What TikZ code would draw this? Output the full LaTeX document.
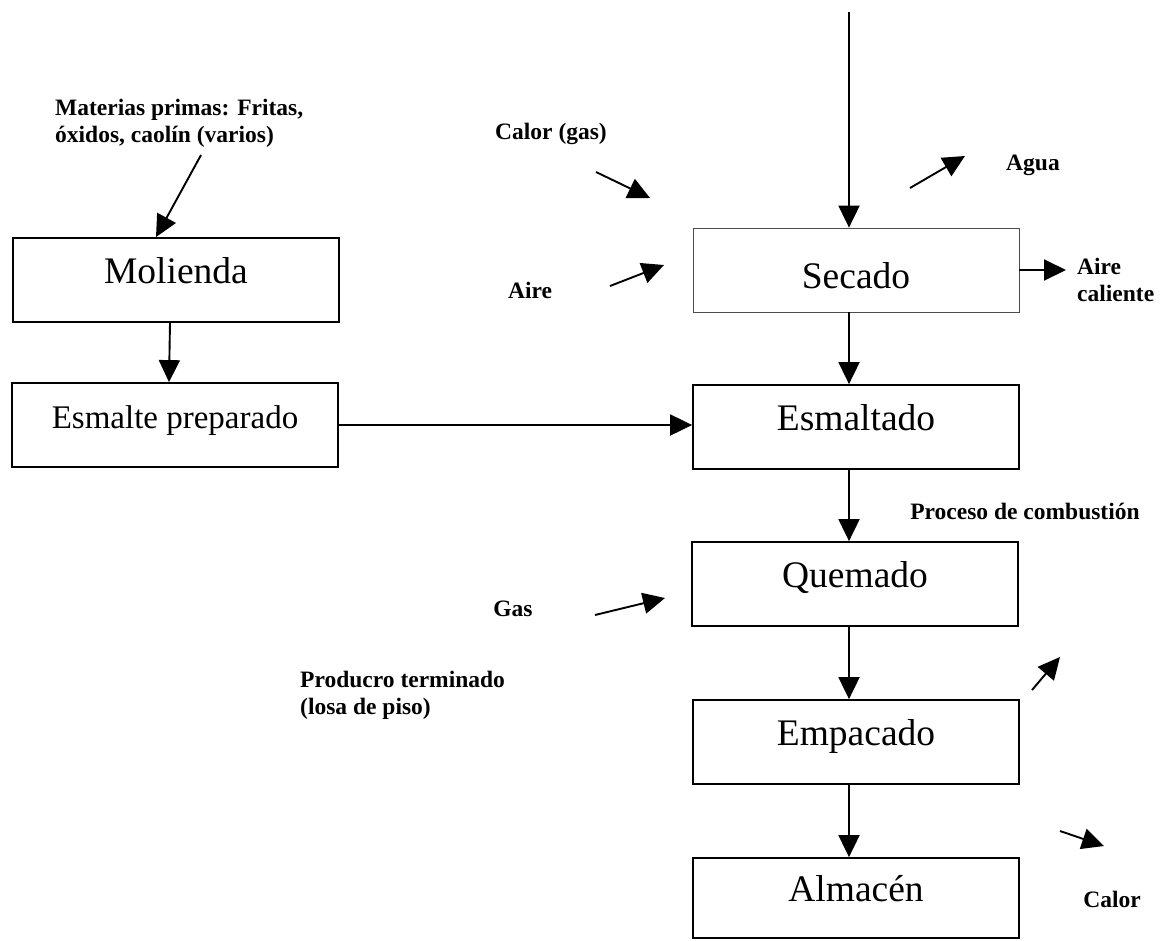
\documentclass[tikz,border=0pt]{standalone}
\usepackage{fontspec}
\setmainfont{Liberation Serif}
\usetikzlibrary{arrows.meta,positioning}

\tikzset{
  caja/.style={draw, line width=1.8pt, minimum width=326pt, minimum height=84pt, inner sep=0pt,
    font=\fontsize{37.5}{42}\selectfont, text height=25pt, text depth=19pt},
  flecha/.style={line width=1.9pt, -{Triangle[length=22pt,width=21pt]}},
  etiqueta/.style={font=\fontsize{23.5}{27}\selectfont\bfseries, inner sep=0pt, align=left}
}

\begin{document}
\begin{tikzpicture}[x=1pt,y=-1pt]
            \useasboundingbox (0,0) rectangle (1161,940);

            %cajas de la izquierda
            \node[caja] (molienda) at (176,280) {Molienda};
            \node[caja, font=\fontsize{33}{37}\selectfont] (esmalte) at (175,425) {Esmalte preparado};

            %cajas de la derecha
            \node[caja, line width=0.8pt, draw=black!70, text height=37pt, text depth=0pt] (secado) at (856,270) {Secado};
            \node[caja] (esmaltado) at (856,427) {Esmaltado};
            \node[caja] (quemado) at (855,584) {Quemado};
            \node[caja] (empacado) at (856,742) {Empacado};
            \node[caja, minimum height=80pt] (almacen) at (856,898) {Almacén};

            %textos
            \node[etiqueta, anchor=north west] (materias) at (55,99) {Materias primas: Fritas,\\óxidos, caolín (varios)};
            \node[etiqueta] (calor) at (551,134) {Calor (gas)};
            \node[etiqueta] (agua) at (1033,165) {Agua};
            \node[etiqueta] (aire) at (530,290) {Aire};
            \node[etiqueta, anchor=west] (airecal) at (1077,280) {Aire\\caliente};
            \node[etiqueta] (proceso) at (1025,511) {Proceso de combustión};
            \node[etiqueta] (gas) at (513,609) {Gas};
            \node[etiqueta, anchor=north west] (producto) at (300,671) {Producro terminado\\(losa de piso)};
            \node[etiqueta] (calorb) at (1112,899) {Calor};

            %puntos sueltos
            \coordinate (entrada) at (849,12);
            \coordinate (mat0) at (201,155);
            \coordinate (calor0) at (596,172);
            \coordinate (calor1) at (650,198);
            \coordinate (agua0) at (910,188);
            \coordinate (agua1) at (965,156);
            \coordinate (aire0) at (610,286);
            \coordinate (aire1) at (664,265);
            \coordinate (gas0) at (595,615);
            \coordinate (gas1) at (665,598);
            \coordinate (humo0) at (1032,690);
            \coordinate (humo1) at (1060,657);
            \coordinate (calorb0) at (1060,831);
            \coordinate (calorb1) at (1104,846);

            %flechas
            \draw[flecha] (mat0) -- ([xshift=-20pt]molienda.north);
            \draw[flecha] ([xshift=-6pt]molienda.south) -- ([xshift=-6pt]esmalte.north);
            \draw[flecha] (esmalte.east) -- (esmalte.east -| esmaltado.west);
            \draw[flecha] (entrada) -- (entrada |- secado.north);
            \draw[flecha] (entrada |- secado.south) -- (entrada |- esmaltado.north);
            \draw[flecha] (entrada |- esmaltado.south) -- (entrada |- quemado.north);
            \draw[flecha] (entrada |- quemado.south) -- (entrada |- empacado.north);
            \draw[flecha] (entrada |- empacado.south) -- (entrada |- almacen.north);
            \draw[flecha, shorten >=11pt] (secado.east) -- (secado.east -| airecal.west);
            \draw[flecha] (calor0) -- (calor1);
            \draw[flecha] (agua0) -- (agua1);
            \draw[flecha] (aire0) -- (aire1);
            \draw[flecha] (gas0) -- (gas1);
            \draw[flecha] (humo0) -- (humo1);
            \draw[flecha] (calorb0) -- (calorb1);

\end{tikzpicture}
\end{document}
